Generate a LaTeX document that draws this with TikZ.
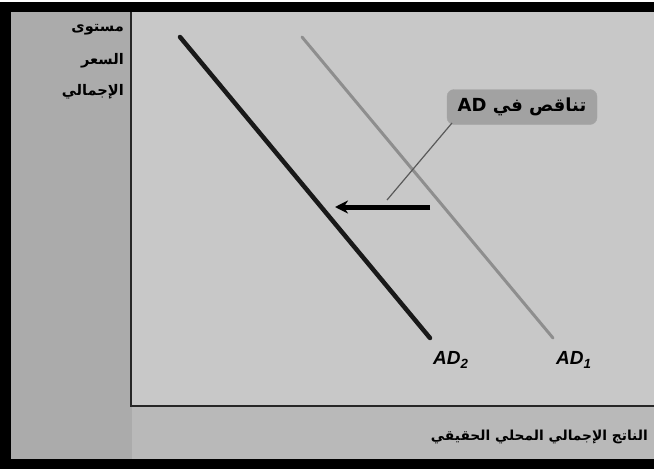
\documentclass[tikz,border=0pt]{standalone}
\usepackage{fontspec}
\setmainfont{Liberation Sans}
\newfontfamily\arabicfont[Script=Arabic]{DejaVu Sans}
\TeXXeTstate=1
\usetikzlibrary{arrows.meta}
\definecolor{leftgray}{HTML}{ABABAB}
\definecolor{bottomgray}{HTML}{B9B9B9}
\definecolor{plotgray}{HTML}{C8C8C8}
\definecolor{adonegray}{HTML}{8E8E8E}
\definecolor{calloutgray}{HTML}{A2A2A2}
\tikzset{
  arlabel/.style={font=\arabicfont\bfseries\fontsize{14.6}{16}\selectfont, inner sep=0pt, text=black},
  xarlabel/.style={font=\arabicfont\bfseries\fontsize{13.8}{16}\selectfont, inner sep=0pt, text=black},
  adlabel/.style={font=\bfseries\itshape\fontsize{19}{21}\selectfont, inner sep=0pt},
  callout/.style={draw=gray!70, fill=calloutgray, rounded corners=7pt, minimum width=150pt, minimum height=35pt, inner sep=0pt},
}
\begin{document}
\begin{tikzpicture}[x=1pt,y=-1pt]
\useasboundingbox (0,0) rectangle (654,469);
\fill[white] (0,0) rectangle (654,469);
\fill[black] (0,2) rectangle (654,12);
\fill[black] (0,2) rectangle (11,469);
\fill[black] (0,459) rectangle (654,469);
\fill[leftgray] (11,12) rectangle (132,459);
\fill[bottomgray] (132,406) rectangle (654,459);
\fill[plotgray] (132,12) rectangle (654,406);
\draw[line width=2.5pt, black!85] (131,12) -- (131,406) -- (654,406);
% curves
\coordinate (a2s) at (180,37);
\coordinate (a2e) at (430,338);
\coordinate (a1s) at (302,37);
\coordinate (a1e) at (553,338);
\draw[line width=4.5pt, line cap=round, black!90] (a2s) -- (a2e);
\draw[line width=3pt, line cap=round, adonegray] (a1s) -- (a1e);
\node[adlabel, anchor=west] (l2) at (433,360) {AD\textsubscript{2}};
\node[adlabel, anchor=west] (l1) at (556,360) {AD\textsubscript{1}};
% arrow
\coordinate (arS) at (430,207);
\coordinate (arE) at (335,207);
\draw[line width=5pt, -{Stealth[length=13pt,width=13pt]}] (arS) -- (arE);
% callout
\node[callout] (co) at (522,107) {};
\node[font=\arabicfont\bfseries\fontsize{18}{20}\selectfont, inner sep=0pt] (cot) at (co.center) {\beginR تناقص في \beginL AD\endL\endR};
\coordinate (lead) at (387,200);
\draw[line width=1.2pt, black!65] (452,123) -- (lead);
% axis labels
\node[arlabel, anchor=east] (y1) at (124,30) {\beginR مستوى\endR};
\node[arlabel, anchor=east] (y2) at (124,61) {\beginR السعر\endR};
\node[arlabel, anchor=east] (y3) at (124,92) {\beginR الإجمالي\endR};
\node[xarlabel, anchor=east] (xl) at (648,437) {\beginR الناتج الإجمالي المحلي الحقيقي\endR};
\end{tikzpicture}
\end{document}
